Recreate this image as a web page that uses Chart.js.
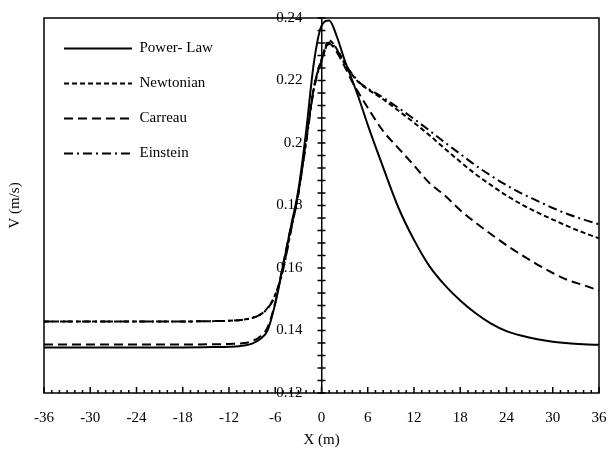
<!DOCTYPE html>
<html>
<head>
<meta charset="utf-8">
<script src="https://cdn.jsdelivr.net/npm/chart.js@4.4.0/dist/chart.umd.min.js"></script>
<style>
  html, body { margin: 0; padding: 0; background: #fff; }
  #wrap { width: 612px; height: 456px; }
</style>
</head>
<body>
<div id="wrap"><canvas id="velChart" width="612" height="456"></canvas></div>
<script>
// X positions (m) shared by all curves
const xVals = [-36, -30, -24, -18, -14, -12, -10, -9, -8, -7, -6, -5, -4, -3, -2, -1, 0, 1, 2, 3, 4, 5, 6,
  8, 10, 12, 14, 16, 18, 20, 22, 24, 26, 28, 30, 32, 34, 36];

// V (m/s)
const powerLaw = [0.1346, 0.1346, 0.1346, 0.1346, 0.1347, 0.1348, 0.1352, 0.1358, 0.1372, 0.1400, 0.1486,
  0.1606, 0.1728, 0.1850, 0.2036, 0.2255, 0.2375, 0.2392, 0.2340, 0.2265, 0.2200, 0.2132, 0.2058,
  0.1922, 0.1792, 0.1690, 0.1606, 0.1545, 0.1496, 0.1455, 0.1422, 0.1398, 0.1383, 0.1372, 0.1364,
  0.1359, 0.1356, 0.1354];
const newtonian = [0.1429, 0.1429, 0.1429, 0.1429, 0.1430, 0.1431, 0.1435, 0.1440, 0.1450, 0.1472, 0.1515,
  0.1595, 0.1718, 0.1840, 0.2005, 0.2175, 0.2268, 0.2328, 0.2300, 0.2255, 0.2218, 0.2190, 0.2172,
  0.2140, 0.2103, 0.2065, 0.2025, 0.1982, 0.1940, 0.1900, 0.1865, 0.1832, 0.1803, 0.1778, 0.1755,
  0.1733, 0.1713, 0.1695];
const carreau = [0.1355, 0.1355, 0.1355, 0.1355, 0.1356, 0.1357, 0.1360, 0.1366, 0.1380, 0.1410, 0.1490,
  0.1610, 0.1728, 0.1840, 0.2010, 0.2175, 0.2265, 0.2318, 0.2290, 0.2245, 0.2195, 0.2153, 0.2113,
  0.2038, 0.1983, 0.1928, 0.1872, 0.1832, 0.1785, 0.1745, 0.1708, 0.1673, 0.1641, 0.1611, 0.1584,
  0.1561, 0.1545, 0.1528];
const einstein = [0.1429, 0.1429, 0.1429, 0.1429, 0.1430, 0.1431, 0.1435, 0.1440, 0.1450, 0.1470, 0.1512,
  0.1592, 0.1715, 0.1838, 0.2000, 0.2170, 0.2262, 0.2322, 0.2298, 0.2255, 0.2220, 0.2192, 0.2175,
  0.2145, 0.2112, 0.2077, 0.2040, 0.2002, 0.1965, 0.1928, 0.1895, 0.1865, 0.1838, 0.1815, 0.1792,
  0.1772, 0.1755, 0.1740];

const seriesNames = ['Power- Law', 'Newtonian', 'Carreau', 'Einstein'];
const xTicks = [-36, -30, -24, -18, -12, -6, 0, 6, 12, 18, 24, 30, 36];
const yTicks = [0.12, 0.14, 0.16, 0.18, 0.2, 0.22, 0.24];

const serif = 'Liberation Serif';
const pts = arr => arr.map((v, i) => ({ x: xVals[i], y: v }));

// frame around the plot, small Excel style tick marks, and the y labels
// (the y axis crosses at x = 0, chart.js would glue its labels to the line)
const frameAndTicks = {
  id: 'frameAndTicks',
  afterDraw(chart) {
    const { ctx, chartArea: a, scales: { x, y } } = chart;
    ctx.save();
    ctx.strokeStyle = '#000';
    ctx.lineWidth = 1.5;
    ctx.strokeRect(a.left, a.top, a.right - a.left, a.bottom - a.top);
    ctx.beginPath();
    for (let v = xTicks[0]; v <= xTicks[xTicks.length - 1]; v++) {
      const px = x.getPixelForValue(v);
      const len = v % 6 === 0 ? 6 : 3;
      ctx.moveTo(px, a.bottom);
      ctx.lineTo(px, a.bottom - len);
    }
    const x0 = x.getPixelForValue(0);
    for (let i = 0; i <= 30; i++) {
      const py = y.getPixelForValue(0.12 + i * 0.004);
      ctx.moveTo(x0 - 4, py);
      ctx.lineTo(x0 + 4, py);
    }
    ctx.stroke();

    ctx.fillStyle = '#000';
    ctx.font = '15px "' + serif + '"';
    ctx.textAlign = 'right';
    ctx.textBaseline = 'middle';
    yTicks.forEach(v => {
      ctx.fillText(String(v), x0 - 19, y.getPixelForValue(v));
    });
    ctx.restore();
  }
};

const mkSet = (label, data, dash) => ({
  label,
  data: pts(data),
  borderColor: '#000',
  backgroundColor: 'rgba(0,0,0,0)',
  borderWidth: 2,
  borderDash: dash,
  pointRadius: 0,
  cubicInterpolationMode: 'monotone',
  yAxisID: 'y'
});

new Chart(document.getElementById('velChart').getContext('2d'), {
  type: 'line',
  data: {
    datasets: [
      mkSet(seriesNames[0], powerLaw, []),
      mkSet(seriesNames[1], newtonian, [5, 3]),
      mkSet(seriesNames[2], carreau, [9, 5]),
      mkSet(seriesNames[3], einstein, [9, 4, 2, 4])
    ]
  },
  options: {
    responsive: false,
    animation: false,
    layout: { padding: { left: 2, right: 13, top: 18, bottom: 3 } },
    plugins: {
      tooltip: { enabled: false },
      legend: {
        position: 'chartArea',
        align: 'start',
        title: { display: true, text: '', font: { size: 10 }, padding: { top: 5, bottom: 4 } },
        labels: {
          usePointStyle: true,
          pointStyle: 'line',
          pointStyleWidth: 68,
          padding: 20,
          color: '#000',
          font: { family: serif, size: 15 },
          generateLabels: chart => chart.data.datasets.map((ds, i) => ({
            text: ds.label,
            datasetIndex: i,
            fillStyle: 'rgba(0,0,0,0)',
            strokeStyle: ds.borderColor,
            lineWidth: ds.borderWidth,
            lineDash: ds.borderDash,
            pointStyle: 'line',
            fontColor: '#000',
            hidden: false
          }))
        }
      }
    },
    scales: {
      x: {
        type: 'linear',
        min: -36,
        max: 36,
        afterBuildTicks: s => { s.ticks = xTicks.map(v => ({ value: v })); },
        grid: { display: false, drawTicks: false },
        border: { display: false },
        ticks: { color: '#000', padding: 16, font: { family: serif, size: 15 } },
        title: { display: true, text: 'X (m)', color: '#000', font: { family: serif, size: 15 } },
        afterFit: s => { s.height = 60; s.paddingLeft = 0; s.paddingRight = 0; }
      },
      y: {
        type: 'linear',
        min: 0.12,
        max: 0.24,
        position: { x: 0 },
        grid: { display: false, drawTicks: false },
        border: { display: true, color: '#000', width: 1.5 },
        ticks: { display: false },
        afterFit: s => { s.width = 0; }
      },
      yTitle: {
        type: 'linear',
        position: 'left',
        min: 0.12,
        max: 0.24,
        grid: { display: false, drawTicks: false },
        border: { display: false },
        ticks: { display: false },
        title: { display: true, text: 'V (m/s)', color: '#000', font: { family: serif, size: 15 } },
        afterFit: s => { s.width = 42; }
      }
    }
  },
  plugins: [frameAndTicks]
});
</script>
</body>
</html>
